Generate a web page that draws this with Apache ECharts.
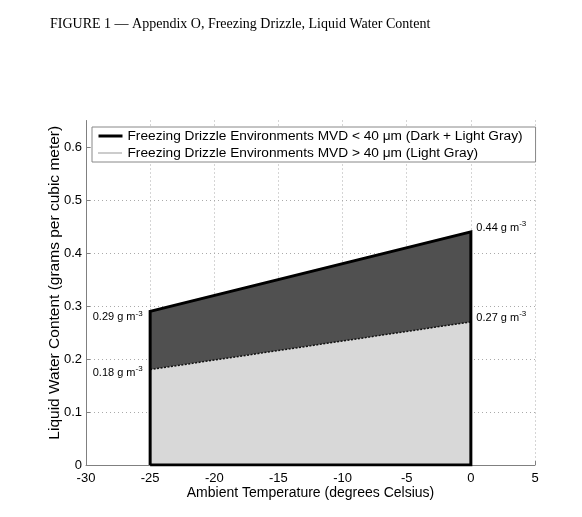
<!DOCTYPE html>
<html>
<head>
<meta charset="utf-8">
<script src="https://cdn.jsdelivr.net/npm/echarts@6/dist/echarts.min.js"></script>
<style>
html,body{margin:0;padding:0;background:#fff;}
#c{width:582px;height:517px;}
</style>
</head>
<body>
<div id="c"></div>
<script>
// Data
const titleText = 'FIGURE 1 — Appendix O, Freezing Drizzle, Liquid Water Content';
const temps = [-25, 0];
const upperLWC = [0.29, 0.44];   // MVD < 40 µm
const lowerLWC = [0.18, 0.27];   // MVD > 40 µm
const xTicks = [-30, -25, -20, -15, -10, -5, 0, 5];
const yTicks = [0, 0.1, 0.2, 0.3, 0.4, 0.5, 0.6];
const seriesNames = [
  'Freezing Drizzle Environments MVD < 40 μm (Dark + Light Gray)',
  'Freezing Drizzle Environments MVD > 40 μm (Light Gray)'
];

const font = '"Liberation Sans", Arial, sans-serif';
const rich = {
  a: {fontFamily: font, fontSize: 11, color: '#000'},
  s: {fontFamily: font, fontSize: 8, color: '#000', padding: [0, 0, 8, 0]}
};
function lbl(v) { return '{a|' + v.toFixed(2) + ' g m}{s|-3}'; }

function pts(vals, labelCfg) {
  return temps.map((t, i) => ({
    value: [t, vals[i]],
    label: Object.assign({show: true, formatter: lbl(vals[i]), rich: rich}, labelCfg[i])
  }));
}

const outline = [[temps[0], 0]]
  .concat(temps.map((t, i) => [t, upperLWC[i]]))
  .concat([[temps[temps.length - 1], 0], [temps[0], 0]]);

const hidden = {color: 'rgba(0,0,0,0)', borderWidth: 0};

const chart = echarts.init(document.getElementById('c'));
chart.setOption({
  animation: false,
  backgroundColor: '#fff',
  title: {
    text: titleText, left: 45, top: 12,
    textStyle: {fontFamily: '"Liberation Serif", "Times New Roman", serif', fontSize: 14, fontWeight: 'normal', color: '#000'}
  },
  grid: {left: 86, right: 47, top: 120.5, bottom: 52},
  legend: {
    left: 92, top: 127, orient: 'vertical',
    backgroundColor: '#fff', borderColor: '#888', borderWidth: 1,
    padding: [2, 13, 2, 5], itemGap: 3, itemWidth: 24, itemHeight: 15,
    textStyle: {fontFamily: font, fontSize: 13.7, color: '#000'},
    data: [
      {name: seriesNames[0], lineStyle: {color: '#000', width: 3, type: 'solid'}, itemStyle: hidden},
      {name: seriesNames[1], lineStyle: {color: '#999', width: 2, type: [1, 1]}, itemStyle: hidden}
    ]
  },
  xAxis: {
    type: 'value', min: xTicks[0], max: xTicks[xTicks.length - 1], interval: 5,
    name: 'Ambient Temperature (degrees Celsius)', nameLocation: 'middle', nameGap: 21,
    nameMoveOverlap: false,
    nameTextStyle: {fontFamily: font, fontSize: 14, color: '#000'},
    axisLine: {show: true, onZero: false, lineStyle: {color: '#808080'}},
    axisTick: {show: true, inside: true, length: 4, lineStyle: {color: '#808080'}},
    axisLabel: {fontFamily: font, fontSize: 13, color: '#000', margin: 7},
    splitLine: {show: true, showMinLine: false, showMaxLine: true, lineStyle: {color: '#aaa', type: [1, 3]}}
  },
  yAxis: {
    type: 'value', min: yTicks[0], max: 0.65, interval: 0.1,
    name: 'Liquid Water Content (grams per cubic meter)', nameLocation: 'middle', nameGap: 23,
    nameMoveOverlap: false,
    nameTextStyle: {fontFamily: font, fontSize: 15.5, color: '#000', padding: [0, 0, 0, 20]},
    axisLine: {show: true, onZero: false, lineStyle: {color: '#808080'}},
    axisTick: {show: true, inside: true, length: 4, lineStyle: {color: '#808080'}},
    axisLabel: {fontFamily: font, fontSize: 13, color: '#000', margin: 4, showMaxLabel: false,
      formatter: v => {
        const r = Math.round(v * 10) / 10;
        return (Math.abs(v - r) < 1e-6 && yTicks.indexOf(r) >= 0) ? String(r) : '';
      }},
    splitLine: {show: true, showMinLine: false, showMaxLine: false, lineStyle: {color: '#aaa', type: [1, 3]}}
  },
  series: [
    {
      name: seriesNames[0] + ' area', type: 'line', symbol: 'circle', symbolSize: 1, z: 2,
      itemStyle: hidden,
      data: pts(upperLWC, [
        {position: 'left', offset: [-2, 6]},
        {position: 'right', offset: [0, -4]}
      ]),
      lineStyle: {width: 0},
      areaStyle: {color: '#505050', opacity: 1}
    },
    {
      name: seriesNames[1], type: 'line', symbol: 'circle', symbolSize: 1, z: 3,
      itemStyle: hidden,
      data: pts(lowerLWC, [
        {position: 'left', offset: [-2, 3]},
        {position: 'right', offset: [0, -4]}
      ]),
      lineStyle: {color: '#111', width: 1.5, type: [2, 1.5]},
      areaStyle: {color: '#d8d8d8', opacity: 1}
    },
    {
      name: seriesNames[0], type: 'line', symbol: 'none', z: 4,
      data: outline,
      lineStyle: {color: '#000', width: 3, join: 'miter'}
    }
  ]
});
</script>
</body>
</html>
